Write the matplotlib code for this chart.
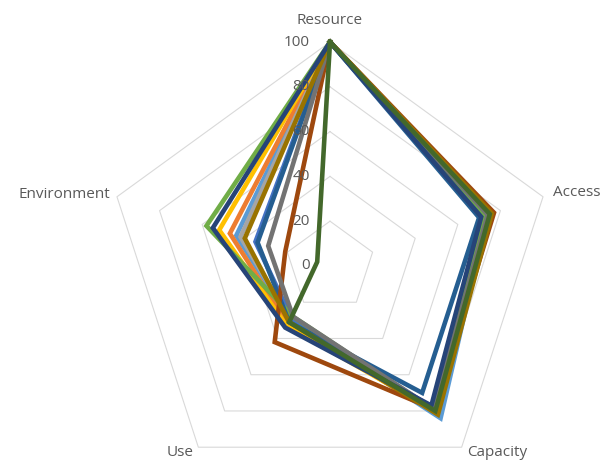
import numpy as np
import matplotlib
matplotlib.use("Agg")
import matplotlib.pyplot as plt

categories = ["Resource", "Access", "Capacity", "Use", "Environment"]
levels = [0, 20, 40, 60, 80, 100]

s1 = [100, 74, 84, 30, 44]
s2 = [100, 75, 81, 32, 47]
s3 = [100, 73, 80, 30, 42]
s4 = [100, 74, 80, 33, 52]
s5 = [100, 72, 79, 29, 35]
s6 = [100, 72, 80, 28, 58]
s7 = [100, 70, 70, 31, 34]
s8 = [100, 77, 79, 42, 21]
s9 = [100, 74, 79, 28, 29]
s10 = [100, 76, 82, 31, 40]
s11 = [100, 71, 77, 34, 55]
s12 = [100, 75, 80, 31, 6]
series = [s1, s2, s3, s4, s5, s6, s7, s8, s9, s10, s11, s12]
colors = ["#5B9BD5", "#ED7D31", "#A5A5A5", "#FFC000", "#4472C4", "#70AD47",
          "#255E91", "#9E480E", "#737373", "#997300", "#264478", "#43682B"]

plt.rcParams['font.family'] = ['Open Sans', 'DejaVu Sans']
fig = plt.figure(figsize=(6.04, 4.61), dpi=100)
ax = fig.add_axes([0.1755, -0.0629, 0.7417, 0.9718], projection='polar')
ax.set_theta_offset(np.pi / 2)
ax.set_theta_direction(-1)
ax.set_ylim(0, 100)
ax.grid(False)
ax.spines['polar'].set_visible(False)
ax.set_xticks([])
ax.set_yticks([])
ax.patch.set_alpha(0)

n = len(categories)
angles = np.linspace(0, 2 * np.pi, n, endpoint=False)
closed = np.concatenate([angles, angles[:1]])

for lv in levels[1:]:
    ax.plot(closed, [lv] * (n + 1), color="#D9D9D9", lw=0.8, clip_on=False, zorder=1)

for vals, c in zip(series, colors):
    v = list(vals) + [vals[0]]
    ax.plot(closed, v, color=c, lw=3.3, solid_joinstyle='miter', clip_on=False, zorder=2)

tc = "#595959"
fs = 11
for lv in levels:
    ax.annotate(str(lv), xy=(0, lv), xytext=(-20, 0), textcoords='offset pixels',
                ha='right', va='center', color=tc, fontsize=fs, annotation_clip=False, zorder=3)

offsets = [((0, 22), 'center', 'center'),
           ((10, 4), 'left', 'center'),
           ((5, -5), 'left', 'center'),
           ((-5, -5), 'right', 'center'),
           ((-7, 2), 'right', 'center')]
for ang, lab, (off, ha, va) in zip(angles, categories, offsets):
    ax.annotate(lab, xy=(ang, 100), xytext=off, textcoords='offset pixels',
                ha=ha, va=va, color=tc, fontsize=fs, annotation_clip=False)

fig.savefig("out.png", dpi=100)
